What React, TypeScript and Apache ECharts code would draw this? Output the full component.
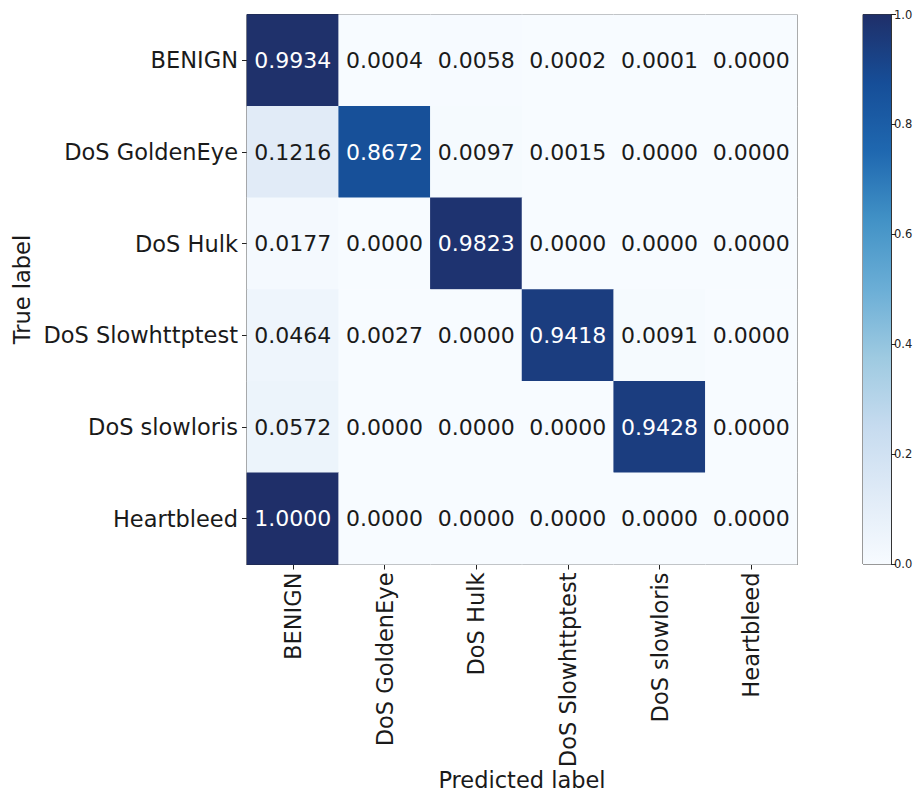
import React, { useEffect, useRef } from "react";
import * as echarts from "echarts";

const trueLabels = ["BENIGN", "DoS GoldenEye", "DoS Hulk", "DoS Slowhttptest", "DoS slowloris", "Heartbleed"];
const predLabels = ["BENIGN", "DoS GoldenEye", "DoS Hulk", "DoS Slowhttptest", "DoS slowloris", "Heartbleed"];

const rowBenign = [0.9934, 0.0004, 0.0058, 0.0002, 0.0001, 0.0];
const rowGoldenEye = [0.1216, 0.8672, 0.0097, 0.0015, 0.0, 0.0];
const rowHulk = [0.0177, 0.0, 0.9823, 0.0, 0.0, 0.0];
const rowSlowhttptest = [0.0464, 0.0027, 0.0, 0.9418, 0.0091, 0.0];
const rowSlowloris = [0.0572, 0.0, 0.0, 0.0, 0.9428, 0.0];
const rowHeartbleed = [1.0, 0.0, 0.0, 0.0, 0.0, 0.0];
const matrix = [rowBenign, rowGoldenEye, rowHulk, rowSlowhttptest, rowSlowloris, rowHeartbleed];

const colorbarValue = [1];

const blues = ["#f7fbff", "#e0ebf7", "#c6dbef", "#9ecae1", "#6baed6", "#4292c6", "#1f68b0", "#164e98", "#1f2f69"];

export default function App() {
  const ref = useRef<HTMLDivElement>(null);
  useEffect(() => {
    if (!ref.current) return;
    const chart = echarts.init(ref.current, undefined, { renderer: "svg" });
    const font = "DejaVu Sans";
    const data: any[] = [];
    matrix.forEach((row, yi) =>
      row.forEach((v, xi) => {
        data.push({
          value: [xi, yi, v],
          label: { color: v > 0.5 ? "#ffffff" : "#1a1a1a" },
        });
      })
    );
    const stops = blues
      .map((c, i) => ({ offset: 1 - i / (blues.length - 1), color: c }))
      .reverse();
    chart.setOption({
      animation: false,
      backgroundColor: "#ffffff",
      textStyle: { fontFamily: font },
      grid: [
        { left: 247, top: 14.5, width: 550, height: 550, show: true, borderColor: "#222", borderWidth: 1, backgroundColor: "transparent", outerBoundsMode: "none", containLabel: false },
        { left: 863, top: 14.5, width: 28, height: 549.5, show: true, borderColor: "#333", borderWidth: 1, backgroundColor: "transparent", outerBoundsMode: "none", containLabel: false },
      ],
      xAxis: [
        {
          type: "category",
          gridIndex: 0,
          data: predLabels,
          position: "bottom",
          axisLine: { show: true, lineStyle: { color: "#222" } },
          axisTick: { show: true, alignWithLabel: true, length: 5, lineStyle: { color: "#222" } },
          axisLabel: { rotate: 90, fontSize: 22.5, color: "#1a1a1a", fontFamily: font, margin: 8 },
          splitLine: { show: false },
          name: "Predicted label",
          nameLocation: "middle",
          nameGap: 204,
          nameMoveOverlap: false,
          nameTextStyle: { fontSize: 22.5, color: "#1a1a1a", fontFamily: font },
        },
        {
          type: "category",
          gridIndex: 1,
          data: ["cb"],
          show: false,
        },
      ],
      yAxis: [
        {
          type: "category",
          gridIndex: 0,
          data: trueLabels,
          inverse: true,
          axisLine: { show: true, lineStyle: { color: "#222" } },
          axisTick: { show: true, alignWithLabel: true, length: 5, lineStyle: { color: "#222" } },
          axisLabel: { fontSize: 22.5, color: "#1a1a1a", fontFamily: font, margin: 9 },
          splitLine: { show: false },
          name: "True label",
          nameLocation: "middle",
          nameGap: 214,
          nameRotate: 90,
          nameMoveOverlap: false,
          nameTextStyle: { fontSize: 22.5, color: "#1a1a1a", fontFamily: font },
        },
        {
          type: "value",
          gridIndex: 1,
          position: "right",
          min: 0,
          max: 1,
          interval: 0.2,
          axisLine: { show: true, lineStyle: { color: "#333" } },
          axisTick: { show: true, length: 5, lineStyle: { color: "#222" } },
          axisLabel: { fontSize: 11.5, color: "#222", fontFamily: font, margin: 3, formatter: (v: number) => v.toFixed(1) },
          splitLine: { show: false },
        },
      ],
      visualMap: {
        show: false,
        seriesIndex: 0,
        min: 0,
        max: 1,
        dimension: 2,
        inRange: { color: blues },
      },
      series: [
        {
          type: "heatmap",
          xAxisIndex: 0,
          yAxisIndex: 0,
          data,
          label: {
            show: true,
            fontSize: 22,
            fontFamily: font,
            formatter: (p: any) => p.value[2].toFixed(4),
          },
          itemStyle: { borderWidth: 0 },
          emphasis: { disabled: true },
        },
        {
          type: "bar",
          xAxisIndex: 1,
          yAxisIndex: 1,
          data: colorbarValue,
          barWidth: "100%",
          itemStyle: {
            color: new echarts.graphic.LinearGradient(0, 0, 0, 1, stops),
          },
          silent: true,
        },
      ],
    });
    return () => chart.dispose();
  }, []);
  return (
    <div
      ref={ref}
      style={{ position: "absolute", left: 0, top: 0, width: 922, height: 797 }}
    />
  );
}
